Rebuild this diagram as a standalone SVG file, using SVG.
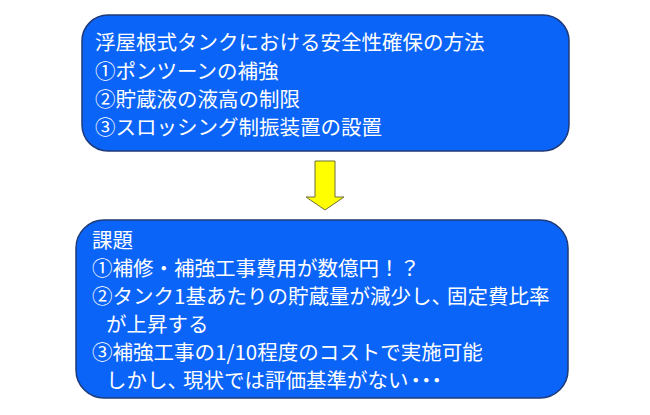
<svg xmlns="http://www.w3.org/2000/svg" width="650" height="415" viewBox="0 0 650 415">
<style>
.box{fill:#0A64F8;stroke:#1F3A78;stroke-width:1.5}
.t{font-family:"Noto Sans CJK JP","Noto Sans CJK SC",sans-serif;font-size:20.5px;fill:#FFFFFF}
.arrow{fill:#FFFF00;stroke:#6E6E3A;stroke-width:1}
</style>
<rect width="650" height="415" fill="#FFFFFF"/>
<g id="node-methods">
<rect class="box" x="82" y="15" width="487" height="136" rx="26" ry="26"/>
<text class="t" x="95" y="50">浮屋根式タンクにおける安全性確保の方法</text>
<text class="t" x="95" y="79">①ポンツーンの補強</text>
<text class="t" x="95" y="107">②貯蔵液の液高の制限</text>
<text class="t" x="95" y="135">③スロッシング制振装置の設置</text>
</g>
<g id="connectors">
<path class="arrow" d="M315,161 L335,161 L335,197 L344,197 L325,210 L306,197 L315,197 Z"/>
</g>
<g id="node-issues">
<rect class="box" x="76" y="220" width="492" height="178" rx="28" ry="28"/>
<text class="t" x="92" y="248">課題</text>
<text class="t" x="92" y="276">①補修・補強工事費用が数億円！？</text>
<text class="t" x="92" y="304">②タンク1基あたりの貯蔵量が減少し、<tspan dx="-5">固定費比率</tspan></text>
<text class="t" x="106" y="332">が上昇する</text>
<text class="t" x="92" y="360">③補強工事の1/10程度のコストで実施可能</text>
<text class="t" x="106" y="388">しかし、<tspan dx="-5">現状では評価基準がない</tspan><tspan dx="-3 -10 -10">・・・</tspan></text>
</g>
</svg>
